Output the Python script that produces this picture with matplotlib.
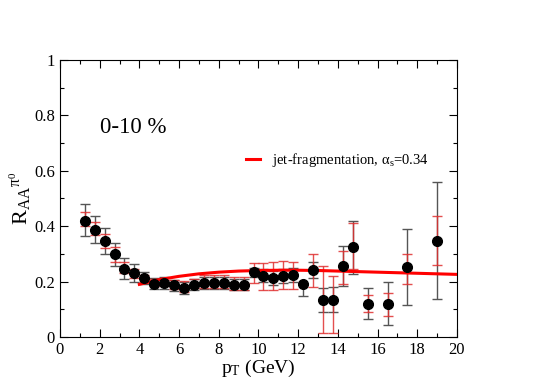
import matplotlib
matplotlib.use("Agg")
import matplotlib.pyplot as plt
from matplotlib.ticker import MultipleLocator

plt.rcParams['font.family'] = ['Liberation Serif', 'DejaVu Serif']
plt.rcParams['mathtext.fontset'] = 'stix'

# PHENIX-like pi0 data, 0-10 %
pt = [1.25, 1.75, 2.25, 2.75, 3.25, 3.75, 4.25, 4.75, 5.25, 5.75, 6.25, 6.75,
      7.25, 7.75, 8.25, 8.75, 9.25, 9.75, 10.25, 10.75, 11.25, 11.75, 12.25,
      12.75, 13.25, 13.75, 14.25, 14.75, 15.5, 16.5, 17.5, 19.0]
raa = [0.420, 0.388, 0.345, 0.298, 0.247, 0.230, 0.213, 0.193, 0.195, 0.187,
       0.177, 0.189, 0.195, 0.195, 0.195, 0.188, 0.188, 0.235, 0.220, 0.213,
       0.220, 0.224, 0.190, 0.242, 0.134, 0.134, 0.257, 0.324, 0.119, 0.119,
       0.253, 0.347]
# black error bars (lower, upper)
blk_lo = [0.055, 0.048, 0.045, 0.043, 0.037, 0.030, 0.023, 0.020, 0.020, 0.020,
          0.020, 0.020, 0.020, 0.020, 0.020, 0.020, 0.020, 0.020, 0.022, 0.025,
          0.025, 0.025, 0.042, 0.030, 0.044, 0.044, 0.072, 0.096, 0.054, 0.076,
          0.138, 0.210]
blk_hi = [0.060, 0.050, 0.048, 0.042, 0.038, 0.033, 0.022, 0.020, 0.020, 0.020,
          0.020, 0.020, 0.020, 0.020, 0.020, 0.020, 0.020, 0.015, 0.025, 0.027,
          0.025, 0.025, 0.000, 0.030, 0.043, 0.046, 0.073, 0.096, 0.058, 0.079,
          0.137, 0.213]
# red error bars (lower, upper)
red_lo = [0.020, 0.020, 0.025, 0.028, 0.017, 0.018, 0.013, 0.010, 0.010, 0.012,
          0.015, 0.012, 0.018, 0.018, 0.018, 0.018, 0.018, 0.040, 0.050, 0.043,
          0.047, 0.049, 0.000, 0.062, 0.119, 0.119, 0.067, 0.079, 0.029, 0.044,
          0.063, 0.087]
red_hi = [0.030, 0.027, 0.025, 0.027, 0.023, 0.015, 0.012, 0.015, 0.017, 0.020,
          0.025, 0.022, 0.030, 0.030, 0.030, 0.030, 0.030, 0.032, 0.047, 0.057,
          0.054, 0.046, 0.000, 0.058, 0.121, 0.086, 0.053, 0.086, 0.031, 0.041,
          0.047, 0.090]

# model curve
curve_x = [4.0, 5.0, 6.0, 7.0, 8.0, 9.0, 10.0, 11.0, 12.0, 13.0, 14.0, 15.0,
           16.0, 17.0, 18.0, 19.0, 20.0]
curve_y = [0.190, 0.207, 0.219, 0.228, 0.234, 0.238, 0.240, 0.241, 0.241,
           0.240, 0.238, 0.236, 0.234, 0.232, 0.230, 0.228, 0.226]

fig = plt.figure(figsize=(5.45, 3.85), dpi=100)
ax = fig.add_axes([0.110, 0.1247, 0.7285, 0.7195])

ax.plot(curve_x, curve_y, color='red', lw=2.2,
        label=r'jet-fragmentation, $\mathregular{\alpha_s}$=0.34', zorder=4)
ax.errorbar(pt, raa, yerr=[blk_lo, blk_hi], fmt='none', ecolor='#555555',
            elinewidth=1.0, capsize=3.5, capthick=1.0, zorder=2)
ax.errorbar(pt, raa, yerr=[red_lo, red_hi], fmt='none', ecolor='#e03030',
            elinewidth=1.0, capsize=3.5, capthick=1.0, alpha=0.85, zorder=3)
ax.plot(pt, raa, 'o', color='black', ms=7, zorder=5)

ax.set_xlim(0, 20)
ax.set_ylim(0, 1)
ax.xaxis.set_major_locator(MultipleLocator(2))
ax.xaxis.set_minor_locator(MultipleLocator(1))
ax.yaxis.set_major_locator(MultipleLocator(0.2))
ax.yaxis.set_minor_locator(MultipleLocator(0.1))
ax.set_yticks([0, 0.2, 0.4, 0.6, 0.8, 1.0])
ax.set_yticklabels(['0', '0.2', '0.4', '0.6', '0.8', '1'])
ax.tick_params(which='both', direction='in', top=True, right=True,
               labelsize=12, width=0.8)
ax.tick_params(which='major', length=6)
ax.tick_params(which='minor', length=3)

ax.set_xlabel(r'$\mathregular{p_T}$ (GeV)', fontsize=14, labelpad=0)
ax.set_ylabel(r'$\mathregular{R_{AA}{}^{\pi^0}}$', fontsize=16, labelpad=0)

ax.text(2.0, 0.755, '0-10 %', fontsize=16.5, va='center')
ax.legend(loc='upper left', bbox_to_anchor=(0.435, 0.72), frameon=False,
          fontsize=10.5, handlelength=1.0)

fig.savefig('out.png', dpi=100)
